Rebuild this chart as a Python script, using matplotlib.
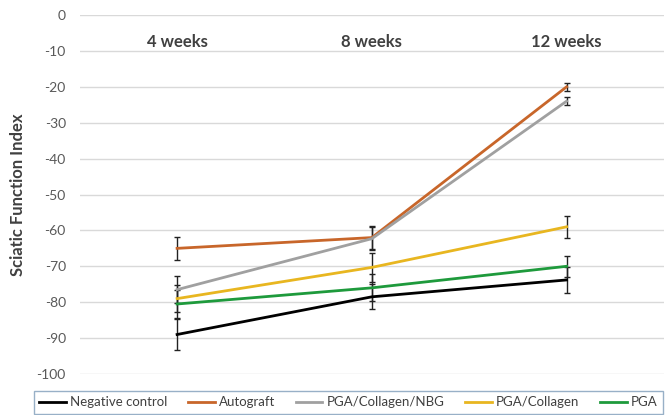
import matplotlib
matplotlib.use("Agg")
import matplotlib.pyplot as plt
from matplotlib.lines import Line2D

categories = ["4 weeks", "8 weeks", "12 weeks"]
series_names = ["Negative control", "Autograft", "PGA/Collagen/NBG", "PGA/Collagen", "PGA"]
neg_control = [-89.0, -78.5, -73.8]
autograft = [-65.0, -62.0, -20.0]
pga_col_nbg = [-76.5, -62.3, -24.0]
pga_col = [-79.0, -70.3, -59.0]
pga = [-80.5, -76.0, -70.0]
err_neg = [4.4, 3.5, 3.5]
err_auto = [3.2, 3.3, 1.2]
err_nbg = [3.8, 3.2, 1.2]
err_col = [3.7, 4.0, 3.0]
err_pga = [4.0, 3.8, 3.0]
yticks = [0, -10, -20, -30, -40, -50, -60, -70, -80, -90, -100]

colors = ["#000000", "#C8662A", "#A0A0A0", "#E8B620", "#1E9A3C"]
values = [neg_control, autograft, pga_col_nbg, pga_col, pga]
errors = [err_neg, err_auto, err_nbg, err_col, err_pga]

plt.rcParams['font.family'] = ['Lato', 'DejaVu Sans']
fig = plt.figure(figsize=(6.7, 4.15), dpi=100)
ax = fig.add_axes([0.119, 0.0988, 0.872, 0.865])
x = list(range(len(categories)))

for v, e, c, n in zip(values, errors, colors, series_names):
    ax.errorbar(x, v, yerr=e, color=c, lw=2.0, ecolor="#222222", elinewidth=1.0,
                capsize=2.5, capthick=1.0, label=n, zorder=3)

ax.set_xlim(-0.5, 2.5)
ax.set_ylim(-100, 0)
ax.set_yticks(yticks)
ax.set_yticklabels([str(t) for t in yticks], color="#595959", fontsize=10)
ax.set_xticks([])
ax.grid(axis="y", color="#d9d9d9", lw=1)
ax.set_axisbelow(True)
for s in ax.spines.values():
    s.set_visible(False)
ax.tick_params(axis="y", length=0, pad=10)
ax.set_ylabel("Sciatic Function Index", fontsize=12, fontweight="bold", color="#404040")
ax.yaxis.set_label_coords(-0.092, 0.5)

for i, cat in enumerate(categories):
    ax.text(i, -7.5, cat, ha="center", va="center", fontsize=12, fontweight="bold", color="#404040")

handles = [Line2D([0], [0], color=c, lw=2.0) for c in colors]
leg = fig.legend(handles, series_names, loc="lower center", bbox_to_anchor=(0.52, -0.003),
                 ncol=5, fontsize=9.5, frameon=True, fancybox=False, handlelength=2.0,
                 handletextpad=0.3, columnspacing=1.6, borderpad=0.4, borderaxespad=0.2)
leg.get_frame().set_edgecolor("#7F9DB9")
leg.get_frame().set_linewidth(1.0)
for t in leg.get_texts():
    t.set_color("#404040")

fig.savefig("out.png", dpi=100)
